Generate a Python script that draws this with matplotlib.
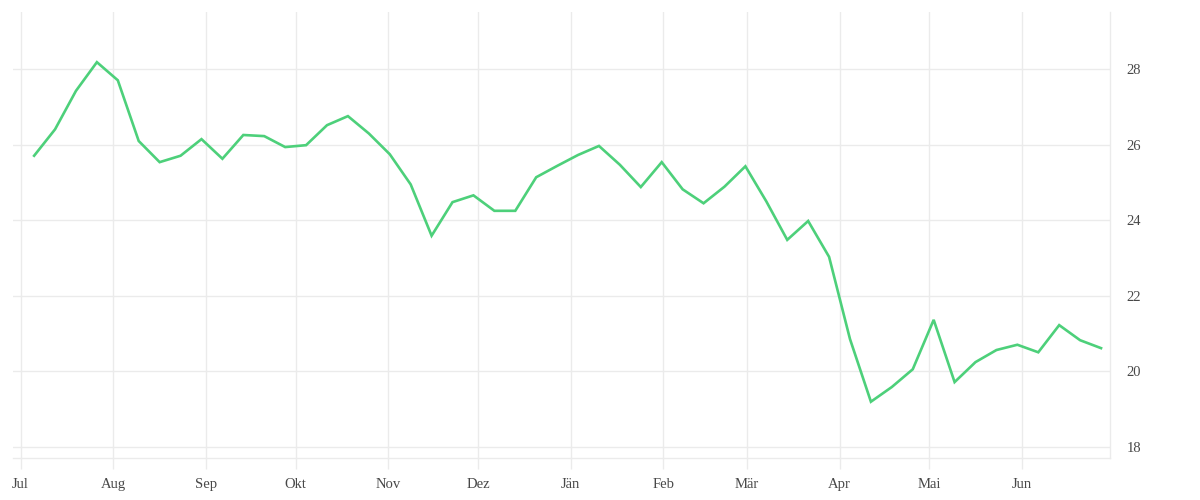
import matplotlib
matplotlib.use('Agg')
import matplotlib.pyplot as plt
import pandas as pd

# weekly values, Jul to Jun
dates = pd.date_range('2018-07-05 12:00', periods=52, freq='7D')
values = [25.71, 26.41, 27.43, 28.19, 27.71, 26.10, 25.54, 25.71, 26.15, 25.63,
          26.26, 26.23, 25.94, 25.99, 26.52, 26.76, 26.30, 25.75, 24.95, 23.59,
          24.48, 24.66, 24.25, 24.25, 25.14, 25.44, 25.73, 25.97, 25.47, 24.88,
          25.54, 24.82, 24.45, 24.89, 25.43, 24.50, 23.48, 23.98, 23.03, 20.85,
          19.19, 19.58, 20.05, 21.36, 19.71, 20.24, 20.56, 20.70, 20.50, 21.22,
          20.82, 20.61]
month_labels = ['Jul', 'Aug', 'Sep', 'Okt', 'Nov', 'Dez', 'Jän', 'Feb', 'Mär',
                'Apr', 'Mai', 'Jun']
month_ticks = pd.date_range('2018-07-01', periods=12, freq='MS')
y_ticks = [18, 20, 22, 24, 26, 28]

plt.rcParams['font.family'] = ['Liberation Serif', 'DejaVu Serif']
grid_col = '#ebebeb'
text_col = '#484848'

fig = plt.figure(figsize=(12, 5), dpi=100)
ax = fig.add_axes([0.0108, 0.0834, 0.9142, 0.8926])

ax.plot(dates, values, color='#4dd07a', lw=1.9, solid_joinstyle='miter', zorder=3)

ax.set_xlim(pd.Timestamp('2018-06-28 10:00'), pd.Timestamp('2019-06-30 12:00'))
ax.set_ylim(17.69, 29.52)

ax.set_xticks(month_ticks)
ax.set_xticklabels(month_labels)
ax.set_yticks(y_ticks)

ax.yaxis.tick_right()
ax.grid(True, color=grid_col, lw=1, zorder=0)
for side in ['top', 'left']:
    ax.spines[side].set_visible(False)
for side in ['bottom', 'right']:
    ax.spines[side].set_color(grid_col)
    ax.spines[side].set_linewidth(1)

ax.tick_params(axis='x', length=8, width=1, color=grid_col, pad=6,
               labelsize=10.5, labelcolor=text_col)
ax.tick_params(axis='y', length=0, pad=12, labelsize=10.5, labelcolor=text_col)
for lbl in ax.get_yticklabels():
    lbl.set_horizontalalignment('left')

fig.savefig('out.png', dpi=100, facecolor='white')
